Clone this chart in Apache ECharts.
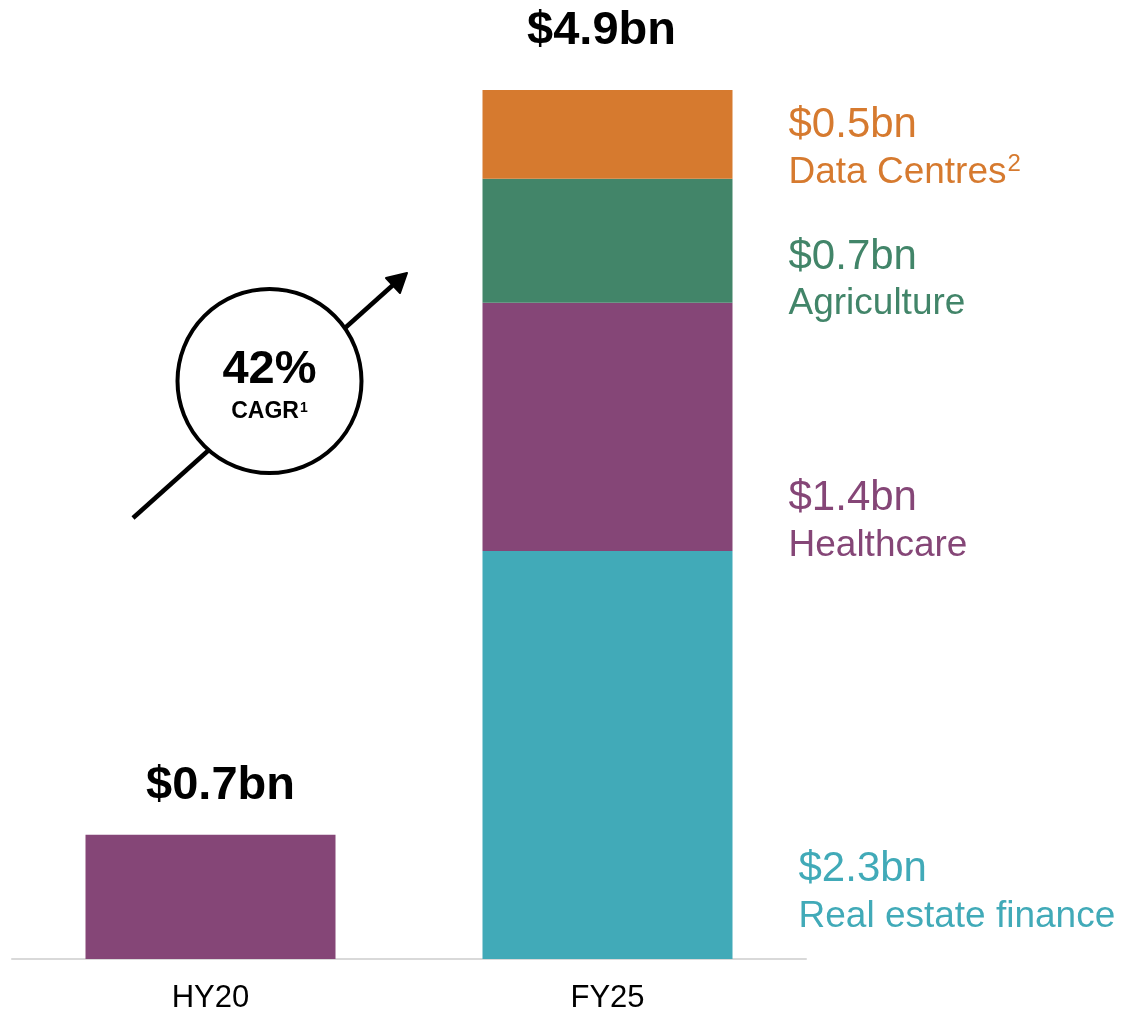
<!DOCTYPE html>
<html>
<head>
<meta charset="utf-8">
<script src="https://cdn.jsdelivr.net/npm/echarts@6/dist/echarts.min.js"></script>
<style>
  html, body { margin: 0; padding: 0; background: #fff; }
  #main { width: 1124px; height: 1011px; }
</style>
</head>
<body>
<div id="main"></div>
<script>
// categories and values ($bn)
var categories = ['HY20', 'FY25']
var segmentNames = ['Real estate finance', 'Healthcare', 'Agriculture', 'Data Centres']
var realEstate = ['-', 2.3]
var healthcare = [0.7, 1.4]
var agriculture = ['-', 0.7]
var dataCentres = ['-', 0.5]
var totals = [0.7, 4.9]
var cagrText = '42%'

var colors = ['#41AAB8', '#854677', '#428569', '#D67A2F']
var footnotes = ['', '', '', '2']
// label placement next to the FY25 column, [dx, dy]
var sideOffsets = [[66, 138], [56, 95], [56, 40], [56, 15]]

var chartDom = document.getElementById('main')
var myChart = echarts.init(chartDom)

var segData = [realEstate, healthcare, agriculture, dataCentres]
var series = segData.map(function (vals, i) {
  var base = { color: colors[i], fontFamily: 'Liberation Sans', lineHeight: 47 }
  return {
    name: segmentNames[i],
    type: 'bar',
    stack: 'total',
    barWidth: 250,
    itemStyle: { color: colors[i] },
    data: vals.map(function (v, j) {
      var item = { value: v }
      if (j === 1) {
        var txt = '{v|$' + v.toFixed(1) + 'bn}\n{n|' + segmentNames[i] + '}'
        if (footnotes[i]) txt += '{s|' + footnotes[i] + '}'
        item.label = {
          show: true,
          position: 'right',
          distance: 0,
          offset: sideOffsets[i],
          formatter: txt,
          rich: {
            v: Object.assign({ fontSize: 42 }, base),
            n: Object.assign({ fontSize: 37 }, base),
            s: Object.assign({}, base, { fontSize: 24, lineHeight: 24, padding: [0, 0, 16, 1] })
          }
        }
      }
      return item
    })
  }
})

// totals above each column
series.push({
  type: 'scatter',
  symbolSize: 0,
  silent: true,
  itemStyle: { opacity: 1 },
  data: totals.map(function (t, j) {
    return {
      value: [categories[j], t],
      label: {
        show: true,
        position: 'top',
        distance: j === 0 ? 25 : 35,
        offset: j === 0 ? [10, 0] : [-6, 0],
        formatter: '$' + t.toFixed(1) + 'bn',
        fontSize: 47,
        fontWeight: 'bold',
        color: '#000',
        fontFamily: 'Liberation Sans'
      }
    }
  })
})

var option = {
  animation: false,
  grid: { left: 12, right: 318, top: 90, bottom: 52, outerBoundsMode: 'none', containLabel: false },
  xAxis: {
    type: 'category',
    data: categories,
    axisLine: { lineStyle: { color: '#d9d9d9', width: 2 } },
    axisTick: { show: false },
    axisLabel: { color: '#000', fontSize: 31, margin: 24, fontFamily: 'Liberation Sans' }
  },
  yAxis: {
    type: 'value',
    min: 0,
    max: 4.9,
    show: false,
    splitLine: { show: false }
  },
  series: series,
  graphic: [
    {
      type: 'line',
      shape: { x1: 133, y1: 518, x2: 393, y2: 285 },
      style: { stroke: '#000', lineWidth: 4.5 }
    },
    {
      type: 'polygon',
      shape: { points: [[407, 273], [386, 278], [400, 293]] },
      style: { fill: '#000', stroke: '#000', lineWidth: 2, lineJoin: 'round' }
    },
    {
      type: 'circle',
      shape: { cx: 269.5, cy: 381, r: 92 },
      style: { fill: '#fff', stroke: '#000', lineWidth: 4 }
    },
    {
      type: 'text',
      x: 269.5,
      y: 370,
      style: {
        text: cagrText,
        align: 'center',
        verticalAlign: 'middle',
        fontSize: 47,
        fontWeight: 'bold',
        fill: '#000',
        fontFamily: 'Liberation Sans'
      }
    },
    {
      type: 'text',
      x: 269.5,
      y: 410,
      style: {
        text: '{a|CAGR}{s|1}',
        align: 'center',
        verticalAlign: 'middle',
        fontFamily: 'Liberation Sans',
        rich: {
          a: { fontSize: 23, fontWeight: 'bold', fill: '#000', lineHeight: 26, verticalAlign: 'bottom' },
          s: { fontSize: 14, fontWeight: 'bold', fill: '#000', lineHeight: 26, padding: [0, 0, 8, 1], verticalAlign: 'bottom' }
        }
      }
    }
  ]
}

option && myChart.setOption(option)
</script>
</body>
</html>
